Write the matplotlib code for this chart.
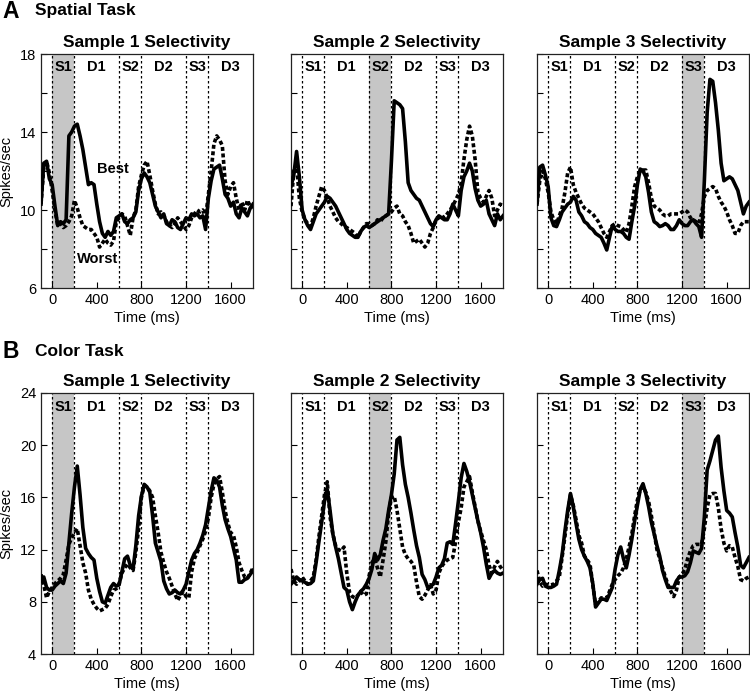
import numpy as np
import matplotlib
matplotlib.use("Agg")
import matplotlib.pyplot as plt

plt.rcParams['font.family'] = ['Liberation Sans', 'DejaVu Sans']

# time grid of the traces (ms from sample 1 onset)
time_ms = np.arange(-100, 1801, 25)

epoch_edges = [0, 200, 600, 800, 1200, 1400]
epoch_names = ['S1', 'D1', 'S2', 'D2', 'S3', 'D3']
epoch_centers = [100, 400, 700, 1000, 1300, 1600]
sample_windows = [(0, 200), (600, 800), (1200, 1400)]
panel_titles = ['Sample 1 Selectivity', 'Sample 2 Selectivity', 'Sample 3 Selectivity']

# ---- A: spatial task ----
spatial_best_1 = [10.3, 12.4, 12.5, 11.6, 11.3, 10.2, 9.2, 9.4,
                  9.3, 9.5, 13.8, 14.0, 14.3, 14.4, 13.8, 13.1,
                  12.2, 11.3, 11.4, 11.3, 10.3, 9.4, 8.8, 8.6,
                  8.9, 8.7, 8.9, 9.6, 9.7, 9.8, 9.4, 9.3,
                  9.5, 9.6, 9.9, 11.0, 11.6, 11.9, 11.7, 11.4,
                  10.8, 10.2, 9.9, 9.6, 9.8, 9.3, 9.2, 9.5,
                  9.4, 9.1, 9.0, 9.3, 9.6, 9.5, 9.8, 9.7,
                  9.8, 9.6, 9.7, 9.0, 10.6, 11.5, 12.1, 12.2,
                  12.3, 11.6, 10.8, 10.6, 10.2, 10.4, 9.8, 9.6,
                  10.1, 9.9, 9.7, 10.1, 10.3]
spatial_worst_1 = [10.3, 12.2, 12.5, 11.9, 11.0, 10.0, 9.2, 9.3,
                   9.1, 9.2, 9.4, 9.7, 10.5, 10.1, 9.6, 9.2,
                   9.1, 9.0, 9.0, 8.8, 8.6, 8.1, 8.3, 8.5,
                   8.3, 8.2, 8.4, 9.4, 9.6, 9.8, 9.7, 9.2,
                   8.7, 9.6, 10.0, 11.2, 11.8, 12.3, 12.5, 11.8,
                   11.0, 10.3, 9.8, 9.9, 9.7, 9.4, 9.2, 9.1,
                   9.3, 9.6, 9.4, 9.2, 9.0, 9.2, 9.6, 9.8,
                   10.0, 9.9, 10.0, 9.6, 10.8, 12.0, 13.4, 13.8,
                   13.6, 13.3, 11.5, 10.8, 11.2, 11.4, 10.6, 10.0,
                   10.4, 10.0, 10.5, 10.2, 10.1]
spatial_best_2 = [11.2, 11.8, 13.0, 11.7, 10.0, 9.5, 9.2, 9.0,
                  9.4, 9.8, 10.0, 10.2, 10.4, 10.7, 10.6, 10.4,
                  10.2, 9.9, 9.6, 9.3, 9.0, 8.8, 8.7, 8.6,
                  8.6, 8.9, 9.1, 9.2, 9.1, 9.2, 9.3, 9.4,
                  9.5, 9.6, 9.7, 9.8, 12.5, 15.6, 15.5, 15.4,
                  15.2, 13.5, 11.4, 11.0, 10.8, 10.6, 10.5, 10.2,
                  9.9, 9.6, 9.3, 9.15, 9.5, 9.7, 9.6, 9.5,
                  9.5, 9.8, 10.3, 10.0, 9.7, 11.0, 11.7, 12.0,
                  12.4, 12.0, 11.1, 10.5, 10.2, 10.3, 10.5, 9.8,
                  9.5, 9.2, 9.8, 9.5, 9.7]
spatial_worst_2 = [10.2, 12.0, 12.3, 10.6, 9.9, 9.5, 9.3, 9.15,
                   9.6, 10.2, 10.7, 11.2, 11.0, 10.6, 10.2, 9.9,
                   9.6, 9.4, 9.3, 9.15, 9.1, 9.0, 8.9, 8.8,
                   8.6, 8.9, 9.1, 9.3, 9.3, 9.2, 9.3, 9.5,
                   9.4, 9.6, 9.7, 9.8, 9.9, 10.1, 10.2, 9.8,
                   9.7, 9.4, 9.2, 8.8, 8.3, 8.4, 8.5, 8.3,
                   8.1, 8.3, 8.8, 9.1, 9.5, 9.6, 9.7, 9.6,
                   9.8, 10.0, 10.2, 10.5, 10.8, 11.4, 12.6, 13.6,
                   14.3, 13.8, 12.6, 10.9, 10.6, 10.4, 10.7, 11.0,
                   10.6, 9.7, 10.0, 10.3, 10.2]
spatial_best_3 = [10.3, 12.2, 12.3, 11.8, 11.2, 9.6, 9.2, 9.15,
                  9.5, 9.9, 10.1, 10.3, 10.4, 10.7, 10.5, 9.9,
                  9.7, 9.4, 9.3, 9.1, 9.0, 8.8, 8.7, 8.6,
                  8.3, 7.95, 8.6, 9.2, 9.0, 8.9, 8.9, 8.8,
                  8.6, 8.5, 9.4, 10.2, 11.3, 12.1, 12.0, 11.7,
                  10.9, 9.9, 9.4, 9.3, 9.15, 9.2, 9.3, 9.2,
                  9.0, 9.0, 9.2, 9.5, 9.3, 9.2, 9.2, 9.4,
                  9.5, 9.3, 9.15, 8.6, 11.5, 15.0, 16.7, 16.6,
                  15.5, 14.1, 12.4, 11.5, 11.6, 11.7, 11.6, 11.3,
                  11.0, 10.4, 9.8, 10.2, 10.4]
spatial_worst_3 = [10.3, 11.5, 12.0, 11.6, 10.9, 9.9, 9.5, 9.3,
                   9.7, 10.1, 10.9, 11.9, 12.2, 11.3, 10.9, 10.6,
                   10.3, 10.1, 10.0, 9.9, 9.8, 9.6, 9.4, 9.1,
                   8.8, 8.6, 8.9, 9.2, 9.3, 9.2, 9.15, 9.0,
                   8.85, 9.3, 10.2, 11.2, 11.7, 12.0, 12.05, 12.05,
                   11.4, 10.6, 10.2, 10.1, 10.0, 9.8, 9.7, 9.7,
                   9.8, 9.8, 9.8, 9.8, 9.9, 10.0, 9.9, 9.6,
                   9.5, 9.4, 9.3, 9.8, 10.7, 11.0, 11.1, 11.2,
                   11.1, 10.7, 10.4, 10.2, 9.9, 9.5, 9.2, 8.8,
                   8.8, 9.2, 9.4, 9.4, 9.4]

# ---- B: color task ----
color_best_1 = [9.6, 9.9, 9.1, 8.9, 8.9, 9.2, 9.4, 9.6,
                9.4, 10.2, 12.5, 14.8, 16.8, 18.4, 16.2, 13.7,
                12.1, 11.7, 11.4, 11.2, 9.8, 8.8, 8.0, 7.9,
                8.5, 9.1, 9.4, 9.2, 9.3, 10.3, 11.3, 11.5,
                10.8, 10.5, 12.3, 14.6, 16.1, 17.0, 16.8, 16.4,
                14.6, 12.5, 11.8, 11.1, 9.6, 9.0, 8.6, 8.7,
                8.9, 8.7, 8.6, 8.9, 9.35, 10.3, 11.2, 11.7,
                12.0, 12.5, 13.1, 13.9, 15.2, 16.5, 17.5, 17.3,
                16.8, 15.4, 14.3, 13.6, 13.0, 12.1, 11.2, 9.5,
                9.5, 9.7, 9.8, 10.1, 10.4]
color_worst_1 = [10.1, 9.3, 8.3, 8.8, 9.1, 9.4, 9.6, 9.8,
                 10.1, 11.2, 12.4, 12.9, 13.3, 13.6, 12.3, 11.0,
                 10.2, 8.9, 8.2, 7.8, 7.5, 7.3, 7.4, 7.5,
                 7.8, 8.4, 8.9, 9.0, 9.4, 10.2, 10.6, 10.9,
                 10.6, 10.4, 11.8, 13.6, 16.0, 16.9, 16.8, 16.5,
                 16.0, 14.6, 13.3, 11.8, 11.0, 10.3, 9.8, 9.2,
                 8.6, 8.1, 8.5, 8.8, 8.4, 8.3, 10.3, 11.3,
                 11.8, 12.3, 12.8, 13.4, 14.4, 16.0, 17.0, 17.4,
                 17.6, 16.4, 15.0, 14.0, 13.3, 13.1, 12.2, 11.0,
                 10.4, 9.9, 9.8, 10.2, 10.6]
color_best_2 = [9.35, 9.6, 9.9, 9.7, 9.6, 9.5, 9.35, 9.4,
                9.6, 11.0, 12.6, 14.1, 15.7, 16.6, 15.0, 13.2,
                12.2, 11.3, 10.2, 9.1, 8.9, 8.0, 7.4, 8.0,
                8.5, 8.8, 9.0, 9.35, 9.8, 10.5, 11.7, 11.2,
                11.6, 12.7, 13.6, 15.0, 16.2, 17.8, 20.4, 20.6,
                18.5, 17.0, 16.0, 14.8, 13.5, 12.3, 11.4, 10.1,
                9.7, 9.1, 9.2, 9.35, 9.9, 10.6, 10.8, 11.3,
                12.5, 12.6, 12.4, 14.0, 15.7, 17.5, 18.6, 18.0,
                17.2, 16.2, 15.2, 14.2, 13.3, 12.2, 10.9, 9.8,
                10.2, 10.4, 10.2, 10.1, 10.2]
color_worst_2 = [10.5, 9.6, 9.35, 9.6, 9.9, 9.6, 9.35, 9.6,
                 9.9, 11.2, 13.0, 14.6, 16.2, 17.2, 14.5, 13.2,
                 12.3, 12.0, 11.9, 12.2, 10.2, 8.7, 8.4, 8.3,
                 8.5, 8.8, 8.5, 8.6, 10.0, 11.0, 11.3, 10.6,
                 9.9, 11.2, 12.6, 14.8, 16.0, 16.1, 15.0, 13.6,
                 12.2, 11.6, 11.3, 11.1, 10.8, 9.5, 8.4, 8.2,
                 8.5, 8.9, 9.3, 8.6, 8.9, 10.2, 10.7, 11.0,
                 11.2, 11.3, 11.4, 12.6, 14.1, 15.2, 16.8, 17.2,
                 17.6, 16.4, 15.3, 14.2, 13.4, 12.7, 12.0, 10.8,
                 10.2, 10.7, 11.1, 10.7, 10.4]
color_best_3 = [9.35, 9.7, 9.8, 9.2, 9.1, 9.1, 9.2, 9.35,
                10.4, 11.6, 13.4, 15.0, 16.3, 15.3, 14.0, 12.8,
                12.0, 11.5, 11.1, 10.6, 9.4, 7.6, 7.9, 8.2,
                8.2, 8.1, 8.6, 9.1, 10.5, 11.6, 12.2, 11.3,
                10.6, 11.6, 12.8, 14.2, 15.4, 16.6, 17.05, 16.3,
                15.3, 14.1, 13.2, 12.3, 11.5, 10.4, 9.7, 9.1,
                9.1, 9.1, 9.6, 9.9, 9.9, 10.0, 10.3, 11.0,
                11.9, 11.8, 11.7, 12.1, 14.5, 18.1, 18.8, 19.6,
                20.4, 20.7, 18.3, 16.5, 15.0, 14.8, 14.5, 13.3,
                12.2, 10.8, 10.6, 11.0, 11.4]
color_worst_3 = [10.4, 9.5, 9.2, 9.35, 9.3, 9.3, 9.35, 9.6,
                 9.9, 11.4, 13.0, 14.7, 16.2, 15.4, 14.3, 13.1,
                 12.5, 11.5, 11.2, 10.9, 9.3, 7.8, 8.0, 8.3,
                 8.3, 8.3, 8.8, 9.35, 9.7, 10.0, 10.2, 10.6,
                 11.3, 12.2, 13.2, 14.6, 15.8, 16.6, 16.8, 16.4,
                 15.7, 14.6, 13.3, 12.0, 11.3, 10.6, 9.9, 9.3,
                 8.8, 8.4, 8.9, 9.9, 10.1, 10.5, 11.3, 11.9,
                 12.3, 12.4, 12.4, 12.4, 13.6, 15.2, 16.2, 16.3,
                 16.3, 15.2, 13.6, 12.5, 11.9, 12.3, 12.2, 11.4,
                 10.7, 9.7, 9.6, 9.8, 9.9]

spatial_best = [spatial_best_1, spatial_best_2, spatial_best_3]
spatial_worst = [spatial_worst_1, spatial_worst_2, spatial_worst_3]
color_best = [color_best_1, color_best_2, color_best_3]
color_worst = [color_worst_1, color_worst_2, color_worst_3]

fig = plt.figure(figsize=(7.5, 6.92), dpi=100)
W, H = 750.0, 692.0
lefts = [41, 291, 537]
width = 212


def draw_panel(ax, k, best, worst, ylim, yticks, yminor):
    lo, hi = sample_windows[k]
    ax.axvspan(lo, hi, color='#c6c6c6', lw=0, zorder=0)
    for e in epoch_edges:
        ax.axvline(e, color='black', lw=0.9, ls=(0, (2, 2)), zorder=1)
    ax.plot(time_ms, worst, color='black', lw=2.6, ls=(0, (1.1, 0.7)), zorder=3)
    ax.plot(time_ms, best, color='black', lw=2.6, solid_joinstyle='round', zorder=4)
    for name, c in zip(epoch_names, epoch_centers):
        ax.text(c, 0.945, name, transform=ax.get_xaxis_transform(), ha='center', va='center',
                fontsize=10.5, fontweight='bold')
    ax.set_xlim(-100, 1800)
    ax.set_ylim(*ylim)
    ax.set_xticks([0, 400, 800, 1200, 1600])
    ax.set_yticks(yticks)
    ax.set_yticks(yminor, minor=True)
    ax.tick_params(direction='in', length=4, labelsize=10.5, width=0.8)
    ax.tick_params(which='minor', direction='in', length=4, width=0.8)
    for s in ax.spines.values():
        s.set_linewidth(0.9)
        s.set_color('#222222')
    ax.set_title(panel_titles[k], fontsize=12.5, fontweight='bold', pad=5)
    ax.set_xlabel('Time (ms)', fontsize=10.5, labelpad=3)
    if k == 0:
        ax.set_ylabel('Spikes/sec', fontsize=10.5)
        ax.yaxis.set_label_coords(-0.13, 0.5)
    else:
        ax.set_yticklabels([])


for k in range(3):
    ax = fig.add_axes([lefts[k] / W, 1 - 288 / H, width / W, 234 / H])
    draw_panel(ax, k, spatial_best[k], spatial_worst[k], (6, 18), [6, 10, 14, 18], [8, 12, 16])
    if k == 0:
        ax.text(400, 12.1, 'Best', fontsize=10.5, fontweight='bold', va='center')
        ax.text(225, 7.5, 'Worst', fontsize=10.5, fontweight='bold', va='center')

for k in range(3):
    ax = fig.add_axes([lefts[k] / W, 1 - 654 / H, width / W, 261 / H])
    draw_panel(ax, k, color_best[k], color_worst[k], (4, 24), [4, 8, 12, 16, 20, 24], [])

fig.text(2 / W, 1 - 11 / H, 'A', fontsize=16.5, fontweight='bold', va='center')
fig.text(35 / W, 1 - 11 / H, 'Spatial Task', fontsize=12.5, fontweight='bold', va='center')
fig.text(2 / W, 1 - 351 / H, 'B', fontsize=16.5, fontweight='bold', va='center')
fig.text(35 / W, 1 - 351 / H, 'Color Task', fontsize=12.5, fontweight='bold', va='center')

fig.savefig('out.png', dpi=100)
